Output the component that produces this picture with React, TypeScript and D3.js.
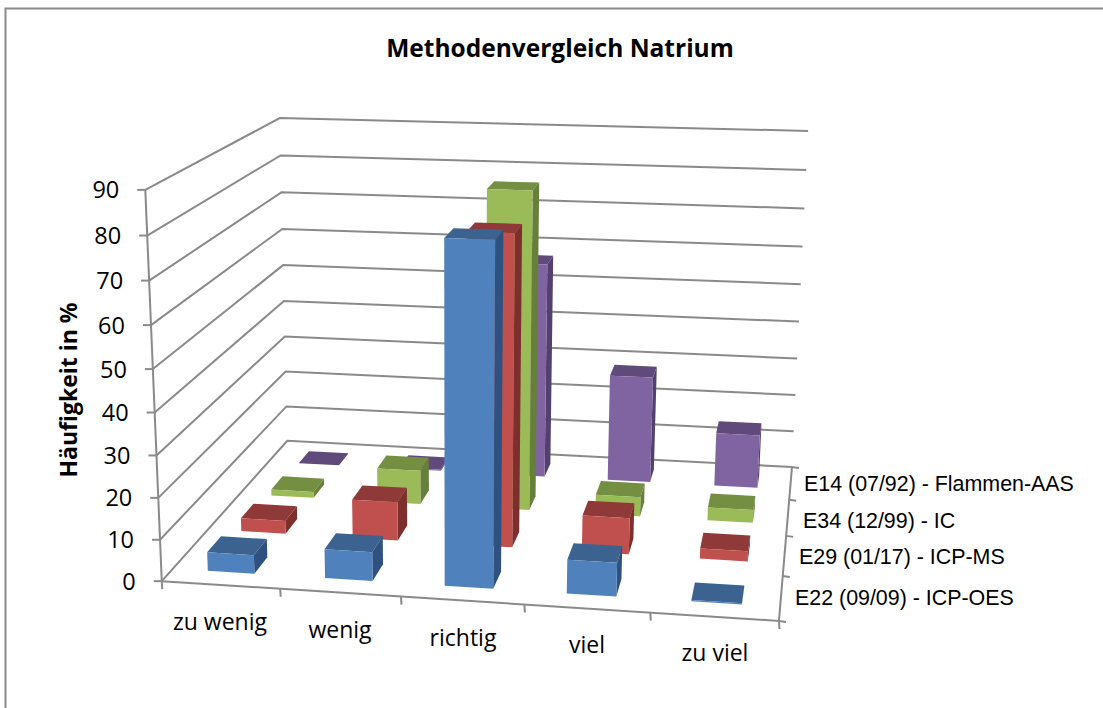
import React from "react";
import * as d3 from "d3";

const categories = ["zu wenig", "wenig", "richtig", "viel", "zu viel"];
const seriesNames = [
  "E22 (09/09) - ICP-OES",
  "E29 (01/17) - ICP-MS",
  "E34 (12/99) - IC",
  "E14 (07/92) - Flammen-AAS",
];
const valuesE22 = [4.5, 7, 80, 8, 0.3];
const valuesE29 = [3.3, 9.7, 76, 9, 2.5];
const valuesE34 = [1.6, 8.8, 81, 5, 3.3];
const valuesE14 = [0, 0.3, 57, 28.3, 14.2];
const seriesValues = [valuesE22, valuesE29, valuesE34, valuesE14];
const yTicks = [0, 10, 20, 30, 40, 50, 60, 70, 80, 90];

const front = ["#4F81BD", "#C0504D", "#9BBB59", "#8064A2"];
const topFace = ["#3C6390", "#8F3A38", "#748F42", "#604A7B"];
const sideFace = ["#2F5180", "#7D2F2D", "#667F3A", "#54406E"];

// camera calibration: unit cube corner -> screen
const calib: [number, number, number, number, number][] = [
  [0, 0, 0, 162, 581],
  [1, 0, 0, 779, 621],
  [0, 1, 0, 287, 441],
  [1, 1, 0, 792, 467],
  [0, 0, 1, 145, 190],
  [0, 1, 1, 280, 118],
  [1, 1, 1, 808, 131],
];

function solveCamera() {
  const A: number[][] = [];
  const b: number[] = [];
  for (const [u, v, w, x, y] of calib) {
    A.push([u, v, w, 1, 0, 0, 0, 0, -x * u, -x * v, -x * w]);
    b.push(x);
    A.push([0, 0, 0, 0, u, v, w, 1, -y * u, -y * v, -y * w]);
    b.push(y);
  }
  const n = 11;
  const M: number[][] = [];
  for (let i = 0; i < n; i++) {
    const row: number[] = [];
    for (let j = 0; j < n; j++) row.push(d3.sum(A, (r) => r[i] * r[j]));
    row.push(d3.sum(A, (r, k) => r[i] * b[k]));
    M.push(row);
  }
  for (let i = 0; i < n; i++) {
    let p = i;
    for (let r = i + 1; r < n; r++) if (Math.abs(M[r][i]) > Math.abs(M[p][i])) p = r;
    [M[i], M[p]] = [M[p], M[i]];
    for (let r = 0; r < n; r++) {
      if (r === i) continue;
      const f = M[r][i] / M[i][i];
      for (let c = i; c <= n; c++) M[r][c] -= f * M[i][c];
    }
  }
  return M.map((r, i) => r[n] / r[i]);
}
const P = solveCamera();
const project = (u: number, v: number, w: number): [number, number] => {
  const d = P[8] * u + P[9] * v + P[10] * w + 1;
  return [
    (P[0] * u + P[1] * v + P[2] * w + P[3]) / d,
    (P[4] * u + P[5] * v + P[6] * w + P[7]) / d,
  ];
};

const uScale = d3.scaleBand<string>().domain(categories).range([0, 1]).paddingInner(0.6).paddingOuter(0.3);
const vScale = d3.scaleBand<string>().domain(seriesNames).range([0, 1]).paddingInner(0.6).paddingOuter(0.3);
const wScale = d3.scaleLinear().domain([0, 90]).range([0, 1]);
const line = d3.line();
const poly = (pts: [number, number][]) => line(pts)! + "Z";

const catLabelPos = [
  [220, 622],
  [340, 630],
  [463, 638],
  [587, 645],
  [715, 653],
];
const legendPos = [
  [795, 597],
  [799, 556],
  [803, 520],
  [804, 483],
];

const GRID = "#8A8A8A";

export default function App() {
  const bars: React.ReactNode[] = [];
  for (let s = seriesNames.length - 1; s >= 0; s--) {
    categories.forEach((c, i) => {
      const val = seriesValues[s][i];
      const u0 = uScale(c)!;
      const u1 = u0 + uScale.bandwidth();
      const v0 = vScale(seriesNames[s])!;
      const v1 = v0 + vScale.bandwidth();
      const w = wScale(val);
      const p = (u: number, v: number, h: number) => project(u, v, h);
      bars.push(
        <g key={s + "-" + i}>
          <path d={poly([p(u0, v0, w), p(u1, v0, w), p(u1, v1, w), p(u0, v1, w)])} fill={topFace[s]} />
          <path d={poly([p(u1, v0, 0), p(u1, v1, 0), p(u1, v1, w), p(u1, v0, w)])} fill={sideFace[s]} />
          <path d={poly([p(u0, v0, 0), p(u1, v0, 0), p(u1, v0, w), p(u0, v0, w)])} fill={front[s]} />
        </g>
      );
    });
  }
  return (
    <svg width={1103} height={708} style={{ position: "absolute", left: 0, top: 0 }}>
      <rect x={5.5} y={8.5} width={1200} height={800} fill="white" stroke="#8A8A8A" strokeWidth={2} />
      <text x={560} y={57} textAnchor="middle" fontFamily="Open Sans" fontWeight={700} fontSize={24.5}>
        Methodenvergleich Natrium
      </text>
      <text
        transform="translate(77,390) rotate(-90)"
        textAnchor="middle"
        fontFamily="Open Sans"
        fontWeight={700}
        fontSize={23}
      >
        Häufigkeit in %
      </text>
      <g stroke={GRID} strokeWidth={2} fill="none">
        {yTicks.map((t) => {
          const w = wScale(t);
          return <path key={t} d={line([project(0, 0, w), project(0, 1, w), project(1, 1, w)])!} />;
        })}
        <path d={line([project(0, 0, 0), project(0, 0, 1)])!} />
        <path d={line([project(0, 0, 0), project(1, 0, 0), project(1, 1, 0)])!} />
        {yTicks.map((t) => {
          const [x, y] = project(0, 0, wScale(t));
          return <path key={t} d={line([[x - 8, y], [x, y]])!} />;
        })}
        {d3.range(categories.length + 1).map((i) => {
          const [x, y] = project(i / categories.length, 0, 0);
          return <path key={i} d={line([[x, y], [x + 0.5, y + 8]])!} />;
        })}
        {d3.range(seriesNames.length + 1).map((i) => {
          const [x, y] = project(1, i / seriesNames.length, 0);
          return <path key={i} d={line([[x, y], [x + 7, y + 1]])!} />;
        })}
      </g>
      {bars}
      {yTicks.map((t) => {
        const [x, y] = project(0, 0, wScale(t));
        return (
          <text key={t} x={x - 26} y={y} dy="0.36em" textAnchor="end" fontFamily="Open Sans" fontSize={23.5}>
            {t}
          </text>
        );
      })}
      {categories.map((c, i) => (
        <text key={c} x={catLabelPos[i][0]} y={catLabelPos[i][1]} dy="0.36em" textAnchor="middle" fontFamily="Open Sans" fontSize={23}>
          {c}
        </text>
      ))}
      {seriesNames.map((n, i) => (
        <text key={n} x={legendPos[i][0]} y={legendPos[i][1]} dy="0.36em" fontFamily="Liberation Sans" fontSize={21.4}>
          {n}
        </text>
      ))}
    </svg>
  );
}
